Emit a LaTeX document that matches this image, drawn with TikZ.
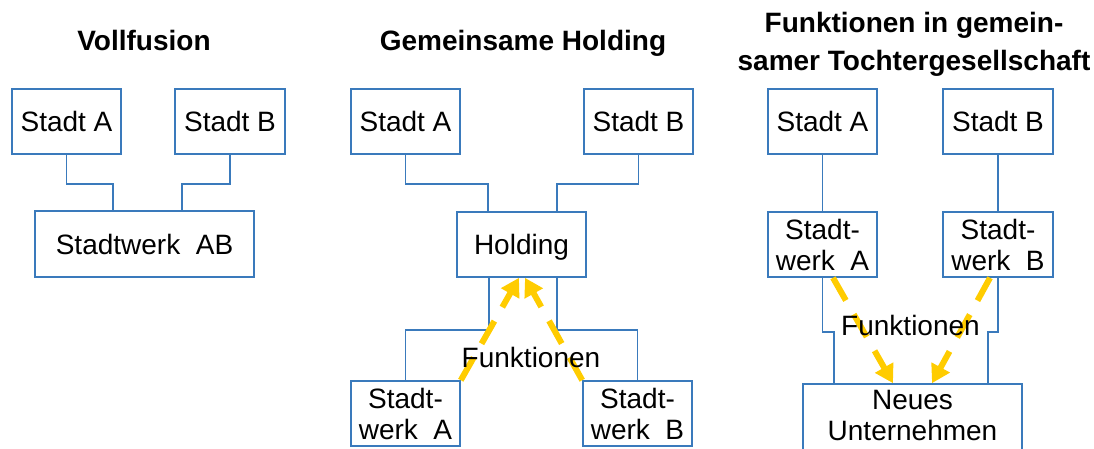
\documentclass[tikz,border=0pt]{standalone}
\usepackage{fontspec}
\setmainfont{Liberation Sans}
\usetikzlibrary{arrows.meta}
\definecolor{frameblue}{RGB}{58,122,188}
\definecolor{flowyellow}{RGB}{255,204,0}
\tikzset{
  box/.style={draw=frameblue, line width=1.6pt, inner sep=0pt,
    minimum width=109pt, minimum height=65pt,
    font=\fontsize{28}{31}\selectfont, text depth=0pt},
  twobox/.style={draw=frameblue, line width=1.6pt, inner sep=0pt,
    minimum width=109pt, minimum height=65pt,
    font=\fontsize{28}{31}\selectfont, align=center},
  link/.style={draw=frameblue, line width=1.6pt},
  flow/.style={draw=flowyellow, line width=6pt, dash pattern=on 26pt off 16pt,
    -{Triangle[length=18pt,width=20pt]}},
  title/.style={font=\fontsize{28}{38}\selectfont\bfseries, align=center, inner sep=0pt},
  flowlabel/.style={font=\fontsize{28}{31}\selectfont, inner sep=0pt, anchor=base}
}
\begin{document}
\begin{tikzpicture}[x=1pt, y=-1pt]
\useasboundingbox (0,0) rectangle (1094,448);

% ---------- Vollfusion ----------
\node[title, anchor=base] (t1) at (144,50) {Vollfusion};
\node[box] (v1a) at (66.5,121.5) {Stadt A};
\node[box, minimum width=110pt] (v1b) at (230,121.5) {Stadt B};
\node[box, minimum width=219pt, minimum height=66pt] (v1w) at (144.5,244) {Stadtwerk\ \ AB};
\draw[link] (v1a.south) -- ++(0,29) -| ([xshift=-31.5pt]v1w.north);
\draw[link] (v1b.south) -- ++(0,29) -| ([xshift=37.5pt]v1w.north);

% ---------- Gemeinsame Holding ----------
\node[title, anchor=base] (t2) at (523,50) {Gemeinsame Holding};
\node[box] (p2a) at (405.5,121.5) {Stadt A};
\node[box] (p2b) at (638.5,121.5) {Stadt B};
\node[box, minimum width=129pt] (hold) at (521.5,244.5) {Holding};
\node[twobox] (p2wa) at (405.5,413.5) {Stadt-\\werk\ \ A};
\node[twobox] (p2wb) at (637.5,413.5) {Stadt-\\werk\ \ B};
\draw[link] (p2a.south) -- ++(0,29) -| ([xshift=-33.5pt]hold.north);
\draw[link] (p2b.south) -- ++(0,29) -| ([xshift=35.5pt]hold.north);
\draw[link] ([xshift=-32.5pt]hold.south) -- ++(0,52) -| (p2wa.north);
\draw[link] ([xshift=35.5pt]hold.south) -- ++(0,52) -| (p2wb.north);
\draw[flow] (p2wa.north east) -- ([xshift=-2.5pt]hold.south);
\draw[flow] (p2wb.north west) -- ([xshift=3.5pt]hold.south);
\node[flowlabel] (p2f) at (531,367) {Funktionen};

% ---------- Funktionen in gemeinsamer Tochtergesellschaft ----------
\node[title, anchor=north] (t3) at (914,11.6) {Funktionen in gemein-\\samer Tochtergesellschaft};
\node[box] (p3a) at (822.5,121.5) {Stadt A};
\node[box, minimum width=110pt] (p3b) at (998,121.5) {Stadt B};
\node[twobox] (p3wa) at (822.5,244.5) {Stadt-\\werk\ \ A};
\node[twobox, minimum width=110pt] (p3wb) at (998,244.5) {Stadt-\\werk\ \ B};
% the lower box runs past the bottom edge; the strut keeps its text near the top
\node[twobox, minimum width=219pt, minimum height=80pt] (neu) at (912.5,424)
  {Neues\\Unternehmen\rule[-18pt]{0pt}{0pt}};
\draw[link] (p3a.south) -- (p3wa.north);
\draw[link] (p3b.south) -- (p3wb.north);
\draw[link] (p3wa.south) -- ++(0,54) -| ([xshift=-78.5pt]neu.north);
\draw[link] (p3wb.south) -- ++(0,54) -| ([xshift=75.5pt]neu.north);
\draw[flow] ([xshift=10.5pt]p3wa.south) -- ([xshift=-19.5pt]neu.north);
\draw[flow] ([xshift=-8pt]p3wb.south) -- ([xshift=19.5pt]neu.north);
\node[flowlabel] (p3f) at (910.5,335) {Funktionen};
\end{tikzpicture}
\end{document}
